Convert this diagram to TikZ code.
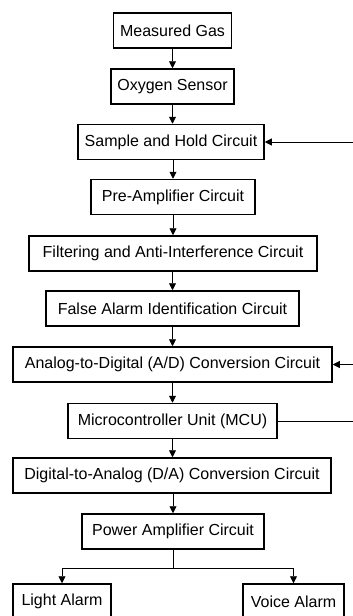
\documentclass[tikz,border=0pt]{standalone}
\usepackage{fontspec}
\setmainfont{Liberation Sans}
\usetikzlibrary{arrows.meta}
\begin{document}
\begin{tikzpicture}[x=1pt,y=-1pt,
  blk/.style={draw, line width=1.5pt, inner sep=0pt, minimum height=35pt, font=\fontsize{16}{19}\selectfont},
  conn/.style={line width=0.9pt, -{Triangle[length=7pt,width=7pt]}},
  plain/.style={line width=0.9pt}]
\clip (0,0) rectangle (353,616);
\fill[white] (0,0) rectangle (353,616);
\node[blk, minimum width=118pt] (mg)  at (172.5,30.5)  {Measured Gas};
\node[blk, minimum width=123pt] (os)  at (172.5,86.5)  {Oxygen Sensor};
\node[blk, minimum width=186pt] (sh)  at (171,142)     {Sample and Hold Circuit};
\node[blk, minimum width=164pt] (pa)  at (173,197)     {Pre-Amplifier Circuit};
\node[blk, minimum width=288pt] (fi)  at (173,253.5)   {Filtering and Anti-Interference Circuit};
\node[blk, minimum width=253pt] (fa)  at (172.5,308.5) {False Alarm Identification Circuit};
\node[blk, minimum width=319pt] (ad)  at (172.5,364.5) {Analog-to-Digital (A/D) Conversion Circuit};
\node[blk, minimum width=209pt] (mcu) at (172.5,421)   {Microcontroller Unit (MCU)};
\node[blk, minimum width=318pt] (da)  at (172,475.5)   {Digital-to-Analog (D/A) Conversion Circuit};
\node[blk, minimum width=182pt] (pw)  at (173,531.5)   {Power Amplifier Circuit};
\node[blk, minimum width=98pt]  (la)  at (62,601.5)    {Light Alarm};
\node[blk, minimum width=101pt] (va)  at (293.5,601.5) {Voice Alarm};
\coordinate (inSH) at (353,142);
\coordinate (inAD) at (353,364.5);
\coordinate (outMCU) at (353,421);
\coordinate (split) at (173,568);
\draw[conn] (mg) -- (os);
\draw[conn] (os) -- (os.south |- sh.north);
\draw[conn] (sh.south -| pa.north) -- (pa);
\draw[conn] (pa) -- (fi);
\draw[conn] (fi.south -| fa.north) -- (fa);
\draw[conn] (fa) -- (ad);
\draw[conn] (ad) -- (mcu);
\draw[conn] (mcu) -- (mcu.south |- da.north);
\draw[conn] (da.south -| pw.north) -- (pw);
\draw[plain] (pw) -- (split);
\draw[conn] (split) -| (la);
\draw[conn] (split) -| (va);
\draw[conn] (inSH) -- (sh);
\draw[conn] (inAD) -- (ad);
\draw[plain] (mcu) -- (outMCU);
\end{tikzpicture}
\end{document}
